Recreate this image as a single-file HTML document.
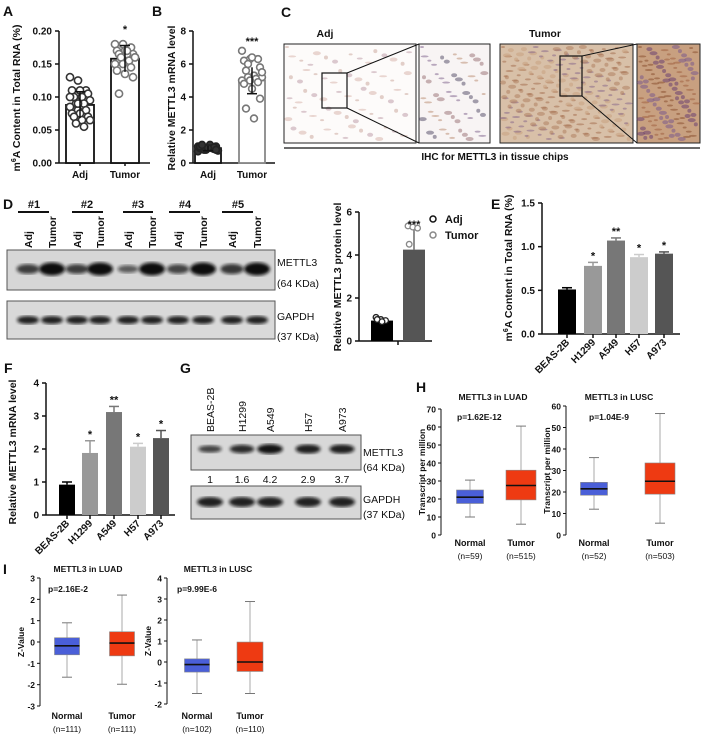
<!DOCTYPE html>
<html><head><meta charset="utf-8">
<style>
html,body{margin:0;padding:0;background:#fff;}
svg{display:block;font-family:"Liberation Sans",Arial,sans-serif;}
</style></head>
<body>
<svg id="fig" width="707" height="737" viewBox="0 0 707 737" xmlns="http://www.w3.org/2000/svg">
<defs>
<filter id="blur1"><feGaussianBlur stdDeviation="1.6"/></filter>
</defs>
</svg>
<script>
// ---------- DATA ----------
const aCats=["Adj","Tumor"];
const aAdjPts=[0.13,0.125,0.11,0.11,0.11,0.105,0.1,0.1,0.095,0.09,0.09,0.085,0.08,0.08,0.075,0.075,0.07,0.07,0.065,0.065,0.06,0.055,0.1,0.09];
const aTumPts=[0.18,0.18,0.175,0.17,0.17,0.165,0.165,0.165,0.16,0.16,0.155,0.15,0.15,0.145,0.14,0.135,0.13,0.105,0.17,0.16];
const aMeans=[0.088,0.158];
const aErr=[0.02,0.02];
const aTicks=[0,0.05,0.1,0.15,0.2];
const aTickLabels=["0.00","0.05","0.10","0.15","0.20"];
const bAdjPts=[0.7,0.8,0.85,0.9,0.95,1.0,1.05,1.1,0.75,0.8,0.9,1.0,0.85,0.95,1.0,0.9,0.8,1.1];
const bTumPts=[6.8,6.3,6.3,6.2,6.4,5.8,5.6,5.3,5.2,5.2,5.1,5.0,5.0,4.9,4.8,4.5,3.9,3.3,2.7,5.5,6.0];
const bMeans=[0.9,5.0];
const bErr=[0.15,0.8];
const bTicks=[0,2,4,6,8];
const dAdjPts=[1.1,1.0,0.95,1.0,0.9];
const dTumPts=[5.35,5.3,5.25,4.5];
const dMeans=[0.95,4.25];
const dErr=[0.1,1.05];
const dTicks=[0,2,4,6];
const cellLines=["BEAS-2B","H1299","A549","H57","A973"];
const eValues=[0.51,0.78,1.07,0.88,0.92];
const eErr=[0.02,0.04,0.03,0.03,0.02];
const eTicks=[0,0.5,1.0,1.5];
const eTickLabels=["0.0","0.5","1.0","1.5"];
const eStars=["","*","**","*","*"];
const fValues=[0.92,1.88,3.12,2.07,2.33];
const fErr=[0.08,0.37,0.17,0.1,0.23];
const fTicks=[0,1,2,3,4];
const fStars=["","*","**","*","*"];
const gRatios=["1","1.6","4.2","2.9","3.7"];
const gBandStrength=[0.55,0.75,0.95,0.85,0.85];
const dBandStrength=[0.6,1,0.6,1,0.35,1,0.55,1,0.65,1];
const boxGroups=["Normal","Tumor"];
const hLuadStats=[[10,17.5,21,25,30.5],[6,19.5,27.5,36,60.5]];
const hLuscStats=[[12,18.5,21.5,24.5,36],[5.5,19,25,33.5,56.5]];
const hLuadN=["(n=59)","(n=515)"];
const hLuscN=["(n=52)","(n=503)"];
const hLuadTicks=[0,10,20,30,40,50,60,70];
const hLuscTicks=[0,10,20,30,40,50,60];
const iLuadStats=[[-1.65,-0.6,-0.18,0.2,0.9],[-1.98,-0.65,-0.05,0.48,2.2]];
const iLuscStats=[[-1.5,-0.48,-0.12,0.15,1.05],[-1.5,-0.45,0.0,0.95,2.88]];
const iLuadN=["(n=111)","(n=111)"];
const iLuscN=["(n=102)","(n=110)"];
const iLuadTicks=[-3,-2,-1,0,1,2,3];
const iLuscTicks=[-2,-1,0,1,2,3,4];

// ---------- HELPERS ----------
const svg=document.getElementById('fig');
const NS="http://www.w3.org/2000/svg";
function mk(tag,attrs,parent,text){const e=document.createElementNS(NS,tag);for(const k in attrs)e.setAttribute(k,attrs[k]);if(text!==undefined)e.textContent=text;(parent||svg).appendChild(e);return e;}
function grp(name){const g=mk('g',{});return g;}
function txt(g,x,y,s,size,opts){opts=opts||{};const t=mk('text',{x:x,y:y,'font-size':size,'text-anchor':opts.anchor||'start','font-weight':opts.bold===false?'normal':'bold',fill:opts.fill||'#111'},g,s);if(opts.rot!==undefined)t.setAttribute('transform','rotate('+opts.rot+' '+x+' '+y+')');return t;}
function lin(g,x1,y1,x2,y2,w,c){return mk('line',{x1:x1,y1:y1,x2:x2,y2:y2,stroke:c||'#111','stroke-width':w||1.5},g);}
function scale(d0,d1,r0,r1){return v=>r0+(v-d0)*(r1-r0)/(d1-d0);}

function yAxis(g,x,y,ticks,labels,size,len){
  lin(g,x,y(ticks[0]),x,y(ticks[ticks.length-1]),1.5);
  ticks.forEach((t,i)=>{lin(g,x-(len||4),y(t),x,y(t),1.5);const l=txt(g,x-(len||4)-3,y(t)+size*0.35,labels?labels[i]:String(t),size,{anchor:'end'});});
}
function jitter(i){return ((i*37)%11-5);}

// ---------- PANEL A ----------
(function(){
const g=grp('panel-a');
txt(g,3,16,'A',14);
const y=scale(0,0.2,163,31);
yAxis(g,59,y,aTicks,aTickLabels,10);
lin(g,59,163,150,163,1.5);
const cx=[80,125];
[aAdjPts,aTumPts].forEach((pts,k)=>{
  const r=mk('rect',{x:cx[k]-14,y:y(aMeans[k]),width:28,height:163-y(aMeans[k]),fill:'#fff',stroke:'#111','stroke-width':1.8},g);
  
  pts.forEach((v,i)=>{const c=mk('circle',{cx:cx[k]+jitter(i)*2,cy:y(v),r:3.6,fill:'#fff',stroke:k?'#777':'#333','stroke-width':1.6},g);});
  lin(g,cx[k],y(aMeans[k]-aErr[k]),cx[k],y(aMeans[k]+aErr[k]),1.5);
  lin(g,cx[k]-5,y(aMeans[k]+aErr[k]),cx[k]+5,y(aMeans[k]+aErr[k]),1.5);
  txt(g,cx[k],178,aCats[k],10,{anchor:'middle'});
  lin(g,cx[k],163,cx[k],166,1.5);
});
txt(g,cx[1],33,'*',11,{anchor:'middle'});
const yl=txt(g,20,98,'',10.5,{anchor:'middle',rot:-90});
mk('tspan',{},yl,'m');mk('tspan',{'font-size':7,dy:-4},yl,'6');mk('tspan',{dy:4},yl,'A Content in Total RNA (%)');

})();

// ---------- PANEL B ----------
(function(){
const g=grp('panel-b');
txt(g,152,16,'B',14);
const y=scale(0,8,163,31);
yAxis(g,193,y,bTicks,null,10);
lin(g,193,163,275,163,1.5);
const cx=[208,252];
[bAdjPts,bTumPts].forEach((pts,k)=>{
  const r=mk('rect',{x:cx[k]-13,y:y(bMeans[k]),width:26,height:163-y(bMeans[k]),fill:'#fff',stroke:k?'#888':'#111','stroke-width':1.8},g);
  
  pts.forEach((v,i)=>{const c=mk('circle',{cx:cx[k]+jitter(i)*2,cy:y(v),r:3.4,fill:k?'#fff':'#333',stroke:k?'#777':'#222','stroke-width':1.6},g);});
  lin(g,cx[k],y(bMeans[k]-bErr[k]),cx[k],y(bMeans[k]+bErr[k]),1.5);
  lin(g,cx[k]-5,y(bMeans[k]-bErr[k]),cx[k]+5,y(bMeans[k]-bErr[k]),1.5);
  txt(g,cx[k],178,aCats[k],10,{anchor:'middle'});
});
txt(g,cx[1],45,'***',11,{anchor:'middle'});
const yl=txt(g,175,98,'Relative METTL3 mRNA level',10.5,{anchor:'middle',rot:-90});

})();

// ---------- PANEL C ----------
(function(){
const g=grp('panel-c');
txt(g,281,17,'C',14);
txt(g,325,37,'Adj',10.5,{anchor:'middle'});
txt(g,545,37,'Tumor',10.5,{anchor:'middle'});
function img(x,y,w,h,bg,dots,col,name,op){
  const r=mk('rect',{x:x,y:y,width:w,height:h,fill:bg,stroke:'#222','stroke-width':1},g);
  
  for(let i=0;i<dots;i++){const px=x+3+((i*53)%97)/97*(w-6),py=y+3+((i*71)%89)/89*(h-6);
    mk('ellipse',{cx:px,cy:py,rx:2+(i%3),ry:1+(i%2),fill:col[i%col.length],opacity:op},g);}
}
img(284,44,132,99,'#fdfbfa',70,['#b07a6a','#9a6a7a','#c49080'],'adj-ihc-image',0.35);
img(419,44,71,99,'#f8f4f4',55,['#6b4a7a','#8a5a60','#b07a5a','#3a3050'],'adj-ihc-inset',0.45);
img(500,44,133,99,'#d8c0a8',260,['#a57050','#b08060','#8a6a8a','#c9a080'],'tumor-ihc-image',0.55);
img(637,44,63,99,'#c8a080',120,['#8a5030','#7a5a8a','#a06040','#6a4070'],'tumor-ihc-inset',0.55);
mk('rect',{x:322,y:73,width:25,height:35,fill:'none',stroke:'#111','stroke-width':1.2},g);
lin(g,347,73,419,44,1);lin(g,347,108,419,143,1);
mk('rect',{x:560,y:56,width:22,height:40,fill:'none',stroke:'#111','stroke-width':1.2},g);
lin(g,582,56,637,44,1);lin(g,582,96,637,143,1);
lin(g,284,148,700,148,1.2);
txt(g,495,160,'IHC for METTL3 in tissue chips',10,{anchor:'middle'});
})();

// ---------- PANEL D BLOT ----------
(function(){
const g=grp('panel-d-blot');
txt(g,3,209,'D',14);
const pairs=["#1","#2","#3","#4","#5"];
const hashX=[34,87,138,185,238];
const lineX=[[18,49],[72,103],[123,153],[169,200],[222,253]];
const lanes=[28,52,77,100,128,152,178,203,232,257];
pairs.forEach((p,i)=>{txt(g,hashX[i],208,p,11,{anchor:'middle'});lin(g,lineX[i][0],212,lineX[i][1],212,2);});
lanes.forEach((x,i)=>{txt(g,x+4,248,i%2?'Tumor':'Adj',10.5,{rot:-90});});
const b1=mk('rect',{x:7,y:250,width:268,height:40,fill:'#d6d6d6',stroke:'#555','stroke-width':1},g);

const b2=mk('rect',{x:7,y:301,width:268,height:38,fill:'#d9d9d9',stroke:'#555','stroke-width':1},g);

lanes.forEach((x,i)=>{const s=dBandStrength[i];
  mk('ellipse',{cx:x,cy:269,rx:9+s*4,ry:2.5+s*4,fill:'#111',opacity:0.4+0.6*s,filter:'url(#blur1)'},g);
  mk('ellipse',{cx:x,cy:320,rx:11,ry:4,fill:'#111',opacity:0.9,filter:'url(#blur1)'},g);});
txt(g,277,266,'METTL3',10.5,{bold:false});
txt(g,277,287,'(64 KDa)',10.5,{bold:false});
txt(g,277,320,'GAPDH',10.5,{bold:false});
txt(g,277,340,'(37 KDa)',10.5,{bold:false});
})();

// ---------- PANEL D BAR ----------
(function(){
const g=grp('panel-d-bar');
const y=scale(0,6,341,212);
yAxis(g,359,y,dTicks,null,10);
lin(g,359,341,432,341,1.5);
const cx=[382,414];const fills=['#000','#555'];
[dAdjPts,dTumPts].forEach((pts,k)=>{
  const r=mk('rect',{x:cx[k]-11,y:y(dMeans[k]),width:22,height:341-y(dMeans[k]),fill:fills[k]},g);
  
  lin(g,cx[k],y(dMeans[k]),cx[k],y(dMeans[k]+dErr[k]),1.3,k?'#555':'#000');
  lin(g,cx[k]-5,y(dMeans[k]+dErr[k]),cx[k]+5,y(dMeans[k]+dErr[k]),1.3,k?'#555':'#000');
  pts.forEach((v,i)=>{const c=mk('circle',{cx:cx[k]+jitter(i)*1.2,cy:y(v),r:2.8,fill:'#fff',stroke:k?'#888':'#222','stroke-width':1.3},g);});
});
lin(g,398,341,398,345,1.5);
txt(g,414,228,'***',11,{anchor:'middle'});
const yl=txt(g,341,277,'Relative METTL3 protein level',10.5,{anchor:'middle',rot:-90});

const l1=mk('g',{},g);
mk('circle',{cx:433,cy:219,r:3,fill:'#fff',stroke:'#111','stroke-width':1.5},l1);txt(l1,445,223,'Adj',11);
const l2=mk('g',{},g);
mk('circle',{cx:433,cy:235,r:3,fill:'#fff',stroke:'#888','stroke-width':1.5},l2);txt(l2,445,239,'Tumor',11);
})();

// ---------- PANEL E ----------
(function(){
const g=grp('panel-e');
txt(g,491,209,'E',14);
const y=scale(0,1.5,334,203);
yAxis(g,542,y,eTicks,eTickLabels,10);
lin(g,542,334,680,334,1.5);
const cx=[567,593,616,639,664];const fills=['#000','#999','#777','#ccc','#555'];
eValues.forEach((v,i)=>{
  const r=mk('rect',{x:cx[i]-9,y:y(v),width:18,height:334-y(v),fill:fills[i]},g);
  
  lin(g,cx[i],y(v),cx[i],y(v+eErr[i]),1.5,fills[i]);lin(g,cx[i]-5,y(v+eErr[i]),cx[i]+5,y(v+eErr[i]),1.5,fills[i]);
  if(eStars[i])txt(g,cx[i],y(v+eErr[i])-3,eStars[i],11,{anchor:'middle'});
  lin(g,cx[i],334,cx[i],338,1.5);
  txt(g,cx[i]+3,343,cellLines[i],10,{anchor:'end',rot:-45});
});
const yl=txt(g,512,268,'',10.5,{anchor:'middle',rot:-90});
mk('tspan',{},yl,'m');mk('tspan',{'font-size':7,dy:-4},yl,'6');mk('tspan',{dy:4},yl,'A Content in Total RNA (%)');

})();

// ---------- PANEL F ----------
(function(){
const g=grp('panel-f');
txt(g,4,373,'F',14);
const y=scale(0,4,515,383);
yAxis(g,46,y,fTicks,null,10);
lin(g,46,515,175,515,1.5);
const cx=[67,90,114,138,161];const fills=['#000','#999','#777','#ccc','#555'];
fValues.forEach((v,i)=>{
  const r=mk('rect',{x:cx[i]-8,y:y(v),width:16,height:515-y(v),fill:fills[i]},g);
  
  lin(g,cx[i],y(v),cx[i],y(v+fErr[i]),1.5,fills[i]);lin(g,cx[i]-5,y(v+fErr[i]),cx[i]+5,y(v+fErr[i]),1.5,fills[i]);
  if(fStars[i])txt(g,cx[i],y(v+fErr[i])-3,fStars[i],11,{anchor:'middle'});
  lin(g,cx[i],515,cx[i],519,1.5);
  txt(g,cx[i]+3,524,cellLines[i],10,{anchor:'end',rot:-45});
});
const yl=txt(g,16,452,'Relative METTL3 mRNA level',10.5,{anchor:'middle',rot:-90});

})();

// ---------- PANEL G ----------
(function(){
const g=grp('panel-g');
txt(g,180,373,'G',14);
const lanes=[210,242,270,308,342];
lanes.forEach((x,i)=>{txt(g,x+4,432,cellLines[i],10.5,{rot:-90,bold:false});
  txt(g,x,483,gRatios[i],10.5,{anchor:'middle',bold:false});});
const b1=mk('rect',{x:191,y:435,width:170,height:35,fill:'#d8d8d8',stroke:'#555','stroke-width':1},g);

const b2=mk('rect',{x:191,y:486,width:170,height:33,fill:'#d8d8d8',stroke:'#555','stroke-width':1},g);

lanes.forEach((x,i)=>{const s=gBandStrength[i];
  mk('ellipse',{cx:x,cy:449,rx:10+s*3,ry:2+s*3,fill:'#111',opacity:0.4+0.6*s,filter:'url(#blur1)'},g);
  mk('ellipse',{cx:x,cy:502,rx:13,ry:5,fill:'#111',opacity:0.9,filter:'url(#blur1)'},g);});
txt(g,363,456,'METTL3',10.5,{bold:false});
txt(g,363,471,'(64 KDa)',10.5,{bold:false});
txt(g,363,503,'GAPDH',10.5,{bold:false});
txt(g,363,518,'(37 KDa)',10.5,{bold:false});
})();

// ---------- BOX PLOTS ----------
function boxPlot(name,ax,yTop,yBot,ticks,stats,centers,widths,title,titleX,titleY,pText,pX,pY,nLabels,labY,yTitle,yTitleX,fs){
  const g=grp(name);
  const y=scale(ticks[0],ticks[ticks.length-1],yBot,yTop);
  lin(g,ax,yBot,ax,yTop,1);
  ticks.forEach(t=>{lin(g,ax-3,y(t),ax,y(t),1);txt(g,ax-5,y(t)+3.5,String(t),fs,{anchor:'end'});});
  txt(g,titleX,titleY,title,fs,{anchor:'middle'});
  txt(g,pX,pY,pText,fs);
  const cols=['#4a5fd8','#ee3a12'];
  stats.forEach((s,k)=>{const c=centers[k],w=widths[k];
    lin(g,c,y(s[0]),c,y(s[4]),1,'#aaa');
    lin(g,c-5,y(s[0]),c+5,y(s[0]),1,'#777');lin(g,c-5,y(s[4]),c+5,y(s[4]),1,'#777');
    const r=mk('rect',{x:c-w/2,y:y(s[3]),width:w,height:y(s[1])-y(s[3]),fill:cols[k],stroke:'#888','stroke-width':0.6},g);
    
    lin(g,c-w/2,y(s[2]),c+w/2,y(s[2]),1.6,'#111');
    txt(g,c,labY,boxGroups[k],fs+0.5,{anchor:'middle'});
    txt(g,c,labY+13,nLabels[k],fs,{anchor:'middle',bold:false});
  });
  const yl=txt(g,yTitleX,(yTop+yBot)/2,yTitle,fs,{anchor:'middle',rot:-90});
  
}
(function(){const g=grp('panel-h-label');txt(g,416,392,'H',14);})();
boxPlot('panel-h-luad',441,409,535,hLuadTicks,hLuadStats,[470,521],[27,30],'METTL3 in LUAD',493,400,'p=1.62E-12',457,420,hLuadN,546,'Transcript per million',425,8.5);
boxPlot('panel-h-lusc',566,406,535,hLuscTicks,hLuscStats,[594,660],[27,30],'METTL3 in LUSC',619,400,'p=1.04E-9',589,420,hLuscN,546,'Transcript per million',550,8.5);
(function(){const g=grp('panel-i-label');txt(g,3,574,'I',14);})();
boxPlot('panel-i-luad',40,578,706,iLuadTicks,iLuadStats,[67,122],[25,25],'METTL3 in LUAD',88,572,'p=2.16E-2',48,592,iLuadN,719,'Z-Value',24,8.5);
boxPlot('panel-i-lusc',167,578,704,iLuscTicks,iLuscStats,[197,250],[25,26],'METTL3 in LUSC',218,572,'p=9.99E-6',177,592,iLuscN,719,'Z-Value',151,8.5);
</script>
</body></html>
